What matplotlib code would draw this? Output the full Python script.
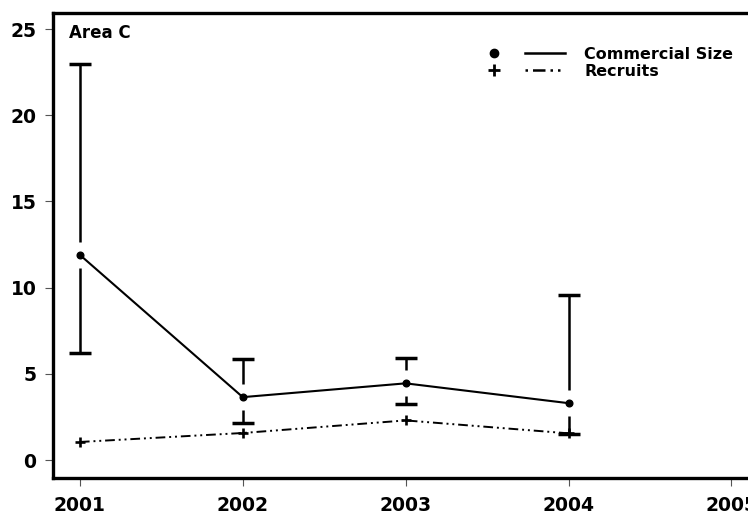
import matplotlib
matplotlib.use("Agg")
import matplotlib.pyplot as plot
from matplotlib.lines import Line2D
import numpy as np

# data
annees = [2001, 2002, 2003, 2004]
commercial = [11.9, 3.65, 4.45, 3.3]
commercial_haut = [23.0, 5.85, 5.9, 9.6]
commercial_bas = [6.2, 2.15, 3.25, 1.5]
recrues = [1.05, 1.57, 2.3, 1.55]
xticks = [2001, 2002, 2003, 2004, 2005]
yticks = [0, 5, 10, 15, 20, 25]

plot.rcParams['font.family'] = ['DejaVu Sans']
plot.rcParams['font.weight'] = 'bold'

fig = plot.figure(figsize=(7.48, 5.19), dpi=100)
ax = fig.add_axes([53 / 748, 41 / 519, 711 / 748, 465 / 519])

annees = np.array(annees)
commercial = np.array(commercial)
ecart = 0.75  # trou autour du point

# barres d'erreur avec un trou autour du point
ax.vlines(annees, commercial + ecart, commercial_haut, colors='black', lw=1.8)
ax.vlines(annees, commercial_bas, commercial - ecart, colors='black', lw=1.8)
ax.plot(annees, commercial_haut, ls='none', marker='_', ms=16, mew=2.5, color='black')
ax.plot(annees, commercial_bas, ls='none', marker='_', ms=16, mew=2.5, color='black')

ax.plot(annees, commercial, color='black', lw=1.5, marker='o', ms=4.8)
ax.plot(annees, recrues, color='black', lw=1.4, ls=(0, (5, 2, 1, 2, 1, 2)),
        marker='+', ms=7, mew=1.9)

ax.set_xlim(2000.835, 2005.2)
ax.set_ylim(-1.04, 25.93)
ax.set_xticks(xticks)
ax.set_yticks(yticks)
ax.tick_params(axis='both', length=6, width=0.8, labelsize=13.5, color='#555555')
ax.tick_params(axis='x', pad=7)
ax.tick_params(axis='y', pad=6)
for cote in ['left', 'bottom', 'top', 'right']:
    ax.spines[cote].set_linewidth(2.4)

ax.text(0.0225, 0.977, 'Area C', transform=ax.transAxes, fontsize=12,
        fontweight='bold', va='top', ha='left')

# legende : marqueurs a gauche, lignes + texte a droite
h_marq = [Line2D([], [], ls='none', marker='o', ms=6, color='black'),
          Line2D([], [], ls='none', marker='+', ms=9, mew=2, color='black')]
leg1 = fig.legend(h_marq, ['', ''], loc='upper left', bbox_to_anchor=(0.650, 0.91),
                  frameon=False, handlelength=1.0, borderpad=0, borderaxespad=0,
                  labelspacing=0.14, fontsize=11.5)
h_lig = [Line2D([], [], color='black', lw=1.8),
         Line2D([], [], color='black', lw=1.8, ls=(0, (1, 2, 5, 2, 1, 2, 1, 2)))]
leg2 = fig.legend(h_lig, ['Commercial Size', 'Recruits'], loc='upper left',
                  bbox_to_anchor=(0.702, 0.91), frameon=False, handlelength=2.5,
                  handletextpad=1.2, borderpad=0, borderaxespad=0,
                  labelspacing=0.14, prop={'weight': 'bold', 'size': 11.5})

plot.savefig('out.png', dpi=100)
